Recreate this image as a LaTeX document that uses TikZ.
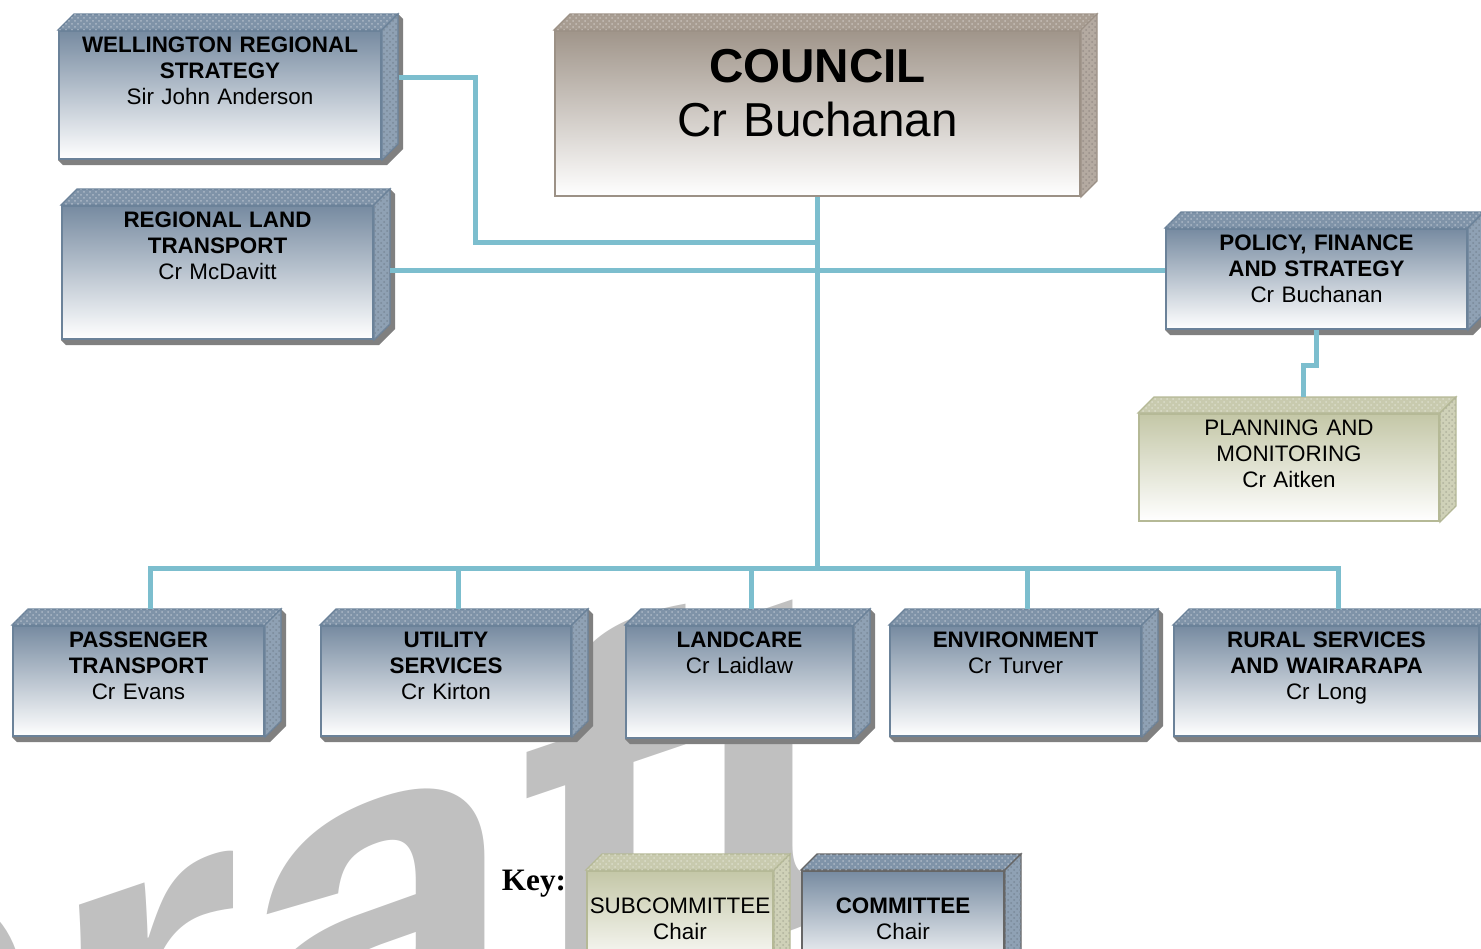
\documentclass[tikz,border=0pt]{standalone}
\usepackage{fontspec}
\setmainfont{Liberation Sans}
\newfontfamily\keyfont{Liberation Serif}
\usetikzlibrary{backgrounds,patterns}

\definecolor{linkblue}{HTML}{7CBECE}
\definecolor{slatetop}{HTML}{778BA1}
\definecolor{slateline}{HTML}{6B8299}
\definecolor{slateface}{HTML}{7F93A8}
\definecolor{slateside}{HTML}{8FA1B4}
\definecolor{counciltop}{HTML}{A0958A}
\definecolor{councilline}{HTML}{9C9186}
\definecolor{councilface}{HTML}{A89D92}
\definecolor{councilside}{HTML}{B4AAA1}
\definecolor{subtop}{HTML}{C4C7A7}
\definecolor{subline}{HTML}{B5B996}
\definecolor{subface}{HTML}{C8CAAE}
\definecolor{subside}{HTML}{CFD1B8}
\definecolor{shadowgray}{HTML}{808080}
\definecolor{wmgray}{HTML}{C0C0C0}

\begin{document}
\begin{tikzpicture}[x=0.5pt, y=-0.5pt, inner sep=0pt,
    committee/.style={anchor=north west, draw=slateline, line width=1pt,
      top color=slatetop, bottom color=white, align=center,
      font=\fontsize{11.2}{13}\selectfont, text height=10.5pt},
    council/.style={committee, draw=councilline, top color=counciltop,
      font=\fontsize{23.8}{27}\selectfont, text height=25.5pt},
    subcommittee/.style={committee, draw=subline, top color=subtop},
    link/.style={draw=linkblue, line width=2.5pt},
    watermark/.style={anchor=base west, text=wmgray, yslant=0.34,
      font=\fontsize{250}{250}\selectfont\bfseries}]

  \useasboundingbox (0,0) rectangle (1481,948);

  % watermark
  \begin{scope}[on background layer]
    \clip (0,0) rectangle (1481,948);
    \node[watermark] (draft) at (-315,1303) {Draft};
  \end{scope}

  \node[council, text width=262.5pt, text depth=57pt] (council) at (554,30)
    {\textbf{COUNCIL}\\Cr Buchanan};
  \node[committee, text width=161pt, text depth=53.5pt] (wrs) at (58,30)
    {\textbf{WELLINGTON REGIONAL}\\\textbf{STRATEGY}\\Sir John Anderson};
  \node[committee, text width=155.5pt, text depth=56pt] (rlt) at (61,205)
    {\textbf{REGIONAL LAND}\\\textbf{TRANSPORT}\\Cr McDavitt};
  \node[committee, text width=150.5pt, text depth=39.5pt] (pfs) at (1165,228)
    {\textbf{POLICY, FINANCE}\\\textbf{AND STRATEGY}\\Cr Buchanan};
  \node[subcommittee, text width=150pt, text depth=43pt] (pm) at (1138,413)
    {PLANNING AND\\MONITORING\\Cr Aitken};

  \node[committee, text width=125.5pt, text depth=44.5pt] (pt) at (12,625)
    {\textbf{PASSENGER}\\\textbf{TRANSPORT}\\Cr Evans};
  \node[committee, text width=125pt, text depth=44.5pt] (us) at (320,625)
    {\textbf{UTILITY}\\\textbf{SERVICES}\\Cr Kirton};
  \node[committee, text width=113.5pt, text depth=45.5pt] (lc) at (625,625)
    {\textbf{LANDCARE}\\Cr Laidlaw};
  \node[committee, text width=125.5pt, text depth=44.5pt] (env) at (889,625)
    {\textbf{ENVIRONMENT}\\Cr Turver};
  \node[committee, text width=152.5pt, text depth=44.5pt] (rsw) at (1173,625)
    {\textbf{RURAL SERVICES}\\\textbf{AND WAIRARAPA}\\Cr Long};

  % key
  \node[font=\keyfont\bfseries\fontsize{15.6}{18}\selectfont] (key) at (534,884) {Key:};
  \node[subcommittee, text width=93pt, text height=21pt, text depth=29pt] (keysub) at (586,870)
    {SUBCOMMITTEE\\Chair};
  \node[committee, draw=black!60, text width=101pt, text height=21pt, text depth=29pt] (keycom) at (801,870)
    {\textbf{COMMITTEE}\\Chair};

  % box tops and sides
  \foreach \bx/\fc/\sc/\lc in {council/councilface/councilside/councilline,
      wrs/slateface/slateside/slateline, rlt/slateface/slateside/slateline,
      pfs/slateface/slateside/slateline, pm/subface/subside/subline,
      pt/slateface/slateside/slateline, us/slateface/slateside/slateline,
      lc/slateface/slateside/slateline, env/slateface/slateside/slateline,
      rsw/slateface/slateside/slateline, keysub/subface/subside/subline,
      keycom/slateface/slateside/black!60} {
    \filldraw[fill=\fc, draw=\lc, line width=0.6pt,
      postaction={pattern=crosshatch dots, pattern color=white!35!\fc}]
      (\bx.north west) -- ++(16,-16)
      -- ([shift={(16,-16)}]\bx.north east) -- (\bx.north east) -- cycle;
    \filldraw[fill=\sc, draw=\lc, line width=0.6pt,
      postaction={pattern=crosshatch dots, pattern color=black!15!\sc}]
      (\bx.north east) -- ++(16,-16)
      -- ([shift={(16,-16)}]\bx.south east) -- (\bx.south east) -- cycle;
  }

  % shadows
  \begin{scope}[on background layer]
    \foreach \bx in {wrs,rlt,pfs,pt,us,lc,env,rsw}
      \fill[shadowgray] ([shift={(5,5)}]\bx.south west) -- ([shift={(5,5)}]\bx.south east)
        -- ([shift={(21,-11)}]\bx.south east) -- ([shift={(21,-11)}]\bx.north east)
        -- ([shift={(16,-16)}]\bx.north east) -- ([shift={(16,-16)}]\bx.south east)
        -- (\bx.south west) -- cycle;
  \end{scope}

  % connectors
  \coordinate (bus) at (council.south |- 0,568);
  \draw[link] (council.south) -- (bus);
  \foreach \bx in {pt,us,lc,env,rsw}
    \draw[link] (bus) -| ([shift={(12,-16)}]\bx.north);
  \draw[link] ([shift={(17,-18)}]wrs.east) -| (475,242) -- (council.south |- 475,242);
  \draw[link] ([shift={(16,-2)}]rlt.east) -- ([shift={(0,-2)}]rlt.east -| pfs.west);
  \draw[link] (pfs.south) -- ++(0,35) -| ([shift={(14,-16)}]pm.north);

\end{tikzpicture}
\end{document}
